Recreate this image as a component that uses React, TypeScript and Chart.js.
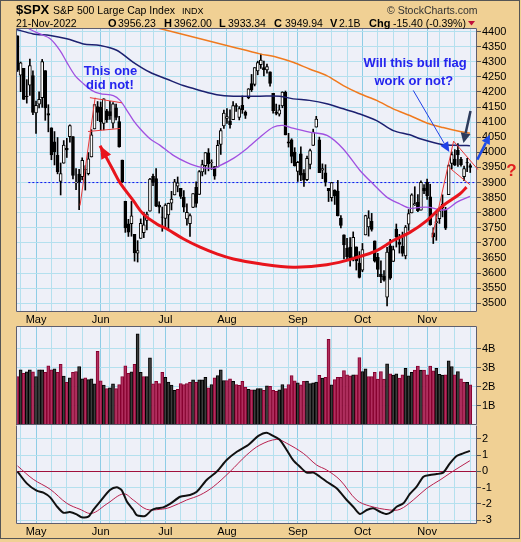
import React, { useEffect, useRef } from 'react';
import { Chart, registerables } from 'chart.js';

Chart.register(...registerables);

const FONT = '"Liberation Sans", Arial, Helvetica, sans-serif';
Chart.defaults.font.family = FONT;

// ---------------- data (one bar per trading day, 22-Apr-2022 .. 21-Nov-2022) ----------------
const opens = [
  4385.8, 4255.3, 4278.1, 4186.5, 4222.6, 4253.8, 4130.6, 4159.8, 4181.2, 4270.4,
  4128.2, 4081.3, 4035.2, 3990.1, 3903.9, 3963.9, 4013.0, 4052.0, 4052.0, 3899.0,
  3927.8, 3919.4, 3942.9, 3929.6, 3984.6, 4077.4, 4151.1, 4149.8, 4095.4, 4137.6,
  4134.7, 4096.5, 4147.1, 4101.7, 3974.4, 3838.2, 3763.5, 3764.1, 3728.2, 3665.9,
  3715.3, 3733.9, 3774.7, 3805.0, 3920.8, 3913.0, 3825.1, 3786.0, 3781.0, 3792.6,
  3832.0, 3858.9, 3888.3, 3880.9, 3852.0, 3779.7, 3764.0, 3818.0, 3883.8, 3860.7,
  3935.3, 3955.5, 3998.4, 3965.7, 3953.2, 3951.4, 4026.1, 4087.3, 4112.4, 4104.2,
  4108.0, 4154.9, 4115.9, 4155.9, 4133.1, 4181.0, 4227.4, 4225.0, 4269.4, 4290.5,
  4280.4, 4273.1, 4266.3, 4195.1, 4133.1, 4126.6, 4153.3, 4198.7, 4034.6, 4041.3,
  4000.7, 3936.7, 3994.7, 3930.9, 3909.4, 3959.9, 4022.9, 4083.7, 4041.3, 3940.7,
  3932.4, 3880.9, 3849.9, 3875.2, 3871.4, 3782.4, 3727.1, 3682.7, 3686.4, 3651.9,
  3687.0, 3633.5, 3609.8, 3726.5, 3753.2, 3772.0, 3706.7, 3652.2, 3595.9, 3590.8,
  3520.4, 3690.4, 3638.7, 3746.3, 3703.1, 3689.1, 3657.1, 3762.0, 3799.4, 3826.0,
  3834.7, 3808.3, 3881.9, 3901.8, 3852.9, 3733.3, 3767.0, 3780.7, 3817.0, 3810.9,
  3859.9, 3963.7, 3978.0, 4006.4, 3976.8, 3919.3, 3966.4, 3956.2,
];
const highs = [
  4385.8, 4299.0, 4278.1, 4240.7, 4308.5, 4269.7, 4169.8, 4200.1, 4307.7, 4270.4,
  4157.7, 4081.3, 4068.8, 4049.1, 3964.8, 4038.9, 4046.5, 4090.7, 4052.0, 3946.0,
  3943.4, 3981.9, 3955.7, 3999.3, 4075.1, 4158.5, 4168.3, 4166.5, 4177.5, 4142.7,
  4168.8, 4164.9, 4160.1, 4119.1, 3974.4, 3838.2, 3778.2, 3837.6, 3728.2, 3707.7,
  3779.7, 3801.8, 3802.6, 3913.7, 3927.7, 3945.9, 3836.5, 3819.0, 3829.8, 3832.2,
  3870.9, 3910.6, 3918.5, 3880.9, 3873.4, 3829.4, 3796.4, 3863.6, 3902.4, 3939.8,
  3974.1, 3999.3, 4012.4, 3975.3, 3953.2, 4039.6, 4078.9, 4140.2, 4145.0, 4140.5,
  4167.7, 4161.3, 4151.6, 4186.6, 4137.3, 4211.0, 4257.9, 4280.5, 4301.8, 4325.3,
  4302.2, 4292.5, 4266.3, 4195.1, 4159.8, 4156.6, 4200.5, 4203.0, 4063.0, 4045.0,
  4015.4, 3970.2, 4018.4, 3942.6, 3987.9, 4010.5, 4076.8, 4119.3, 4050.4, 3961.9,
  3959.1, 3880.9, 3900.5, 3876.0, 3907.1, 3790.4, 3727.1, 3715.7, 3717.5, 3736.7,
  3687.0, 3671.4, 3698.4, 3791.9, 3806.9, 3797.9, 3706.7, 3665.6, 3640.7, 3608.3,
  3685.4, 3712.0, 3689.7, 3762.8, 3728.6, 3736.0, 3757.9, 3810.7, 3862.9, 3886.2,
  3859.9, 3905.4, 3893.7, 3911.8, 3894.4, 3750.6, 3796.3, 3814.0, 3859.4, 3818.2,
  3959.2, 4001.5, 4009.0, 4028.8, 3983.1, 3954.3, 3979.9, 3962.0,
];
const lows = [
  4267.6, 4200.8, 4175.0, 4162.9, 4188.6, 4124.3, 4062.5, 4147.1, 4148.9, 4106.0,
  4067.9, 3975.5, 3958.2, 3928.8, 3858.9, 3963.9, 3983.0, 4033.9, 3911.9, 3876.6,
  3810.3, 3909.0, 3875.1, 3925.0, 3984.6, 4077.4, 4104.9, 4073.9, 4074.4, 4098.7,
  4109.2, 4080.2, 4107.2, 4017.2, 3900.2, 3735.0, 3721.6, 3722.3, 3639.8, 3636.9,
  3715.3, 3717.7, 3743.5, 3805.0, 3889.7, 3820.1, 3799.0, 3738.7, 3752.1, 3742.1,
  3809.4, 3858.9, 3869.3, 3847.2, 3802.4, 3759.1, 3721.6, 3817.2, 3818.6, 3860.7,
  3922.0, 3927.6, 3938.7, 3943.5, 3910.7, 3951.4, 3993.0, 4079.2, 4096.0, 4079.8,
  4108.0, 4135.4, 4107.3, 4129.0, 4112.1, 4177.3, 4201.4, 4219.8, 4256.9, 4277.8,
  4253.1, 4262.0, 4218.7, 4129.9, 4124.0, 4120.0, 4147.6, 4057.7, 4017.4, 3965.2,
  3954.5, 3903.7, 3906.2, 3886.8, 3906.0, 3944.8, 4022.9, 4083.7, 3932.7, 3912.8,
  3888.3, 3837.1, 3838.5, 3827.5, 3789.5, 3749.5, 3647.5, 3644.8, 3623.3, 3640.6,
  3610.4, 3584.1, 3604.9, 3726.5, 3722.7, 3739.2, 3636.7, 3588.1, 3568.4, 3573.9,
  3491.6, 3579.7, 3638.7, 3686.5, 3666.5, 3656.4, 3647.4, 3741.7, 3799.4, 3824.1,
  3803.8, 3808.3, 3863.2, 3843.8, 3758.7, 3698.2, 3708.8, 3764.7, 3786.3, 3744.2,
  3859.9, 3944.8, 3956.4, 3953.2, 3954.3, 3906.5, 3936.0, 3933.3,
];
const closes = [
  4271.8, 4296.1, 4175.2, 4184.0, 4287.5, 4131.9, 4155.4, 4175.5, 4300.2, 4146.9,
  4123.3, 3991.2, 4001.1, 3935.2, 3930.1, 4023.9, 4008.0, 4088.9, 3923.7, 3900.8,
  3901.4, 3973.8, 3941.5, 3978.7, 4057.8, 4158.2, 4132.2, 4101.2, 4176.8, 4108.5,
  4121.4, 4160.7, 4115.8, 4017.8, 3900.9, 3749.6, 3735.5, 3790.0, 3666.8, 3674.8,
  3764.8, 3759.9, 3795.7, 3911.7, 3900.1, 3821.6, 3818.8, 3785.4, 3825.3, 3831.4,
  3845.1, 3902.6, 3899.4, 3854.4, 3818.8, 3801.8, 3790.4, 3863.2, 3830.9, 3936.7,
  3959.9, 3999.0, 3961.6, 3966.8, 3921.1, 4023.6, 4072.4, 4130.3, 4118.6, 4091.2,
  4155.2, 4151.9, 4145.2, 4140.1, 4122.5, 4210.2, 4207.3, 4280.2, 4297.1, 4305.2,
  4274.0, 4283.7, 4228.5, 4138.0, 4128.7, 4140.8, 4199.1, 4057.7, 4030.6, 3986.2,
  3955.0, 3966.9, 3924.3, 3908.2, 3979.9, 4006.2, 4067.4, 4110.4, 3932.7, 3946.0,
  3901.4, 3873.3, 3899.9, 3855.9, 3789.9, 3758.0, 3693.2, 3655.0, 3647.3, 3719.0,
  3640.5, 3585.6, 3678.4, 3790.9, 3783.3, 3744.5, 3639.7, 3612.4, 3588.8, 3577.0,
  3669.9, 3583.1, 3678.0, 3720.0, 3695.2, 3665.8, 3752.8, 3797.3, 3859.1, 3830.6,
  3807.3, 3901.1, 3872.0, 3856.1, 3759.7, 3719.9, 3770.6, 3806.8, 3828.1, 3748.6,
  3956.4, 3992.9, 3957.3, 3991.7, 3958.8, 3946.6, 3965.3, 3949.9,
];
const prevClose = 4393.7; // close of the day before the first bar
// volume in billions
const volumes = [
  2.54, 2.89, 2.70, 2.78, 2.89, 2.78, 2.54, 2.89, 2.89, 2.75,
  3.10, 2.89, 2.94, 2.76, 3.17, 2.56, 2.23, 2.47, 2.75, 2.80,
  3.06, 2.42, 2.47, 2.37, 2.42, 2.16, 3.85, 2.31, 2.09, 1.90,
  1.95, 2.16, 1.90, 2.12, 2.54, 3.10, 2.70, 2.78, 3.17, 4.77,
  2.75, 2.54, 2.54, 3.52, 2.16, 2.28, 2.17, 2.75, 2.50, 2.24,
  2.09, 1.81, 1.87, 2.17, 2.12, 2.17, 2.23, 2.36, 2.23, 2.36,
  2.36, 2.50, 1.95, 2.12, 2.47, 2.59, 2.89, 2.33, 2.33, 2.42,
  2.28, 2.12, 2.07, 2.28, 1.98, 1.87, 1.84, 1.84, 1.90, 1.90,
  1.81, 2.05, 2.02, 1.81, 1.76, 1.84, 2.12, 1.90, 2.12, 2.59,
  2.31, 2.20, 2.10, 2.28, 2.30, 2.17, 2.20, 2.25, 2.60, 2.45,
  2.50, 4.48, 2.10, 2.37, 2.49, 2.49, 2.85, 2.63, 2.57, 2.63,
  2.63, 3.53, 2.80, 2.94, 2.54, 2.54, 2.75, 2.40, 2.80, 2.40,
  3.20, 2.68, 2.61, 2.68, 2.45, 2.63, 2.96, 2.57, 2.75, 2.87,
  3.08, 2.87, 2.87, 2.63, 3.08, 2.83, 2.96, 2.65, 2.61, 2.63,
  3.36, 3.06, 2.63, 2.80, 2.42, 2.23, 2.23, 2.10,
];

// moving averages (bar index, value)
const purpleIdx = [-0.5, 3.7, 7.3, 10.6, 13.8, 16, 18.7, 21.4, 24.1, 26.8, 31.1, 33.3, 35.5, 37.6, 39.8, 43, 46.3, 50.6, 54.9, 59.3, 63.6, 65.7, 70.1, 74.4, 78.7, 83, 86.2, 89.4, 94.8, 100.5, 105.7, 111.2, 115.4, 120, 124.2, 127.4, 130.6, 133.9, 137.2, 139.4, 142.7, 146.9];
const purpleVal = [4440, 4409, 4392, 4376, 4337, 4298, 4254, 4227, 4205, 4194, 4188, 4172, 4139, 4106, 4078, 4045, 4023, 3990, 3967, 3951, 3947, 3956, 3980, 4012, 4050, 4083, 4089, 4080, 4067, 4056, 4012, 3940, 3896, 3851, 3829, 3815, 3818, 3818, 3810, 3811, 3835, 3854];
const navyIdx = [-0.5, 5.1, 10.6, 16, 21.4, 26.8, 32.2, 37.6, 43, 48.4, 53.8, 59.3, 64.7, 70.1, 78.7, 85.2, 89.5, 94.8, 100.4, 105.8, 111.2, 116.6, 122, 127.4, 130.7, 137.9, 143.7, 146.9];
const navyVal = [4407, 4392, 4387, 4376, 4359, 4354, 4338, 4298, 4265, 4243, 4221, 4205, 4191, 4186, 4186, 4186, 4177, 4172, 4161, 4144, 4127, 4105, 4072, 4058, 4045, 4026, 4023, 4022];
const orangeIdx = [40, 48.4, 59.3, 70.1, 78.7, 84.2, 89.5, 94.8, 100.4, 105.8, 111.2, 116.6, 122, 127.4, 132.9, 138.2, 143.7, 146.9];
const orangeVal = [4425, 4404, 4376, 4348, 4326, 4315, 4298, 4276, 4254, 4221, 4194, 4172, 4144, 4122, 4097, 4082, 4069, 4063];

// PPO line and signal (bar index, value)
const ppoIdx = [0, 3, 6.2, 8.4, 10.6, 12.7, 14.9, 17, 19.2, 20.8, 23, 24.6, 26.8, 30, 32.2, 33.8, 35.5, 37.6, 38.7, 41.4, 43.6, 45.2, 47.3, 49.5, 52.8, 56, 58.2, 61.4, 64.7, 67.9, 71.2, 74.9, 78.2, 80.9, 83, 85.2, 87.4, 89.5, 91.7, 93.9, 96.1, 98.2, 100.4, 103.6, 106.9, 109, 111.2, 113.4, 115.5, 117.7, 119.9, 121.5, 123.1, 125.3, 127.4, 129.6, 131.8, 133.9, 136.1, 138.2, 140.4, 142.6, 144.7, 146.9];
const ppoVal = [-0.02, -0.74, -1.19, -1.31, -1.6, -2.13, -2.54, -2.5, -2.64, -2.82, -2.78, -2.37, -1.86, -1.15, -0.98, -1.15, -1.85, -2.37, -2.68, -2.74, -2.37, -2.27, -2.21, -2.0, -1.56, -1.45, -1.25, -0.53, -0.02, 0.69, 1.2, 1.61, 2.17, 2.37, 2.17, 1.92, 1.31, 0.69, 0.28, -0.08, -0.08, -0.33, -0.64, -1.04, -1.76, -2.17, -2.62, -2.37, -2.27, -2.48, -2.62, -2.48, -2.17, -1.96, -1.39, -0.94, -0.33, -0.23, -0.17, -0.08, 0.49, 0.94, 1.1, 1.25];
const sigIdx = [0, 5.1, 10.6, 16, 20.3, 24.1, 29, 34.4, 37.6, 41.9, 46.3, 49.5, 54.9, 59.3, 63.6, 69, 74.4, 78.7, 84.2, 87.4, 92.8, 97.1, 100.4, 104.7, 110.1, 114.4, 120.9, 124.2, 128.5, 132.9, 137.2, 140.4, 143.7, 146.9];
const sigVal = [0.33, -0.49, -1.1, -1.96, -2.33, -2.58, -2.0, -1.38, -1.76, -2.33, -2.33, -2.21, -1.76, -1.45, -0.94, -0.02, 1.0, 1.61, 1.96, 1.72, 1.1, 0.39, 0.08, -0.53, -1.76, -2.13, -2.37, -2.33, -1.76, -1.04, -0.53, -0.12, 0.28, 0.65];

// axes
const monthStarts = [6, 27, 48, 68, 91, 112, 133];
const monthNames = ['May', 'Jun', 'Jul', 'Aug', 'Sep', 'Oct', 'Nov'];
const weekStarts = [1, 6, 11, 16, 21, 26, 30, 35, 40, 44, 49, 53, 58, 63, 68, 73, 78, 83, 88, 93, 97, 102, 107, 112, 117, 122, 127, 132, 137, 142, 147];
const priceTicks = [3500, 3550, 3600, 3650, 3700, 3750, 3800, 3850, 3900, 3950, 4000, 4050, 4100, 4150, 4200, 4250, 4300, 4350, 4400];
const volTicks = [1, 2, 3, 4];
const macdTicks = [-3, -2, -1, 0, 1, 2];
const supportLevel = 3900;
const supportStart = 3.5;

// annotations (bar index, price)
const curveIdx = [26.8, 31.1, 33.3, 37.6, 40.8, 45.2, 48.4, 53.8, 59.3, 64.7, 70.1, 78.7, 89.5, 100.4, 111.2, 116.6, 122, 127.4, 132.9, 138.2, 143.7, 145.8];
const curveVal = [4022, 3940, 3899, 3840, 3796, 3763, 3747, 3714, 3686, 3664, 3647, 3631, 3620, 3628, 3655, 3675, 3708, 3735, 3774, 3824, 3863, 3885];
const juneFlag = [
  [20.3, 3824, 25.2, 4181],
  [23.5, 4181, 33.9, 4164],
  [22.9, 4069, 33.3, 4079],
];
const novFlag = [
  [134.6, 3718, 141.6, 4037],
  [141.6, 4037, 149.5, 3943],
  [140.1, 3950, 146.9, 3893],
];
const noteTexts = ['This one', 'did not!', 'Will this bull flag', 'work or not?'];
const noteIdx = [30.2, 30.0, 129.1, 128.7];
const noteVal = [4255, 4209, 4283, 4224];
const thinArrow = [128.5, 4205, 140.2, 4001];
const navyArrow = [147.1, 4137, 144.8, 4031];
const rightArrow = [149.3, 3976, 153.4, 4058];
const questionAt = [160.4, 3922];

// ---------------- styling ----------------
const TAN = '#F0D094';
const PLOT_BG = '#EEF0F8';
const WEEK_GRID = '#B4E0EE';
const MONTH_GRID = '#8ECDE6';
const FRAME = '#5E5E6E';
const X_MIN = -0.5;
const X_MAX = 149.2;

const gridTicks = Array.from(new Set([
  ...monthStarts,
  ...weekStarts.filter((w) => monthStarts.every((m) => Math.abs(w - m) > 2)),
])).sort((a, b) => a - b);

function noPad(s: any) {
  s.paddingTop = 0;
  s.paddingBottom = 0;
  s.paddingLeft = 0;
  s.paddingRight = 0;
}

function xScale(showLabels: boolean, height: number) {
  return {
    type: 'linear',
    min: X_MIN,
    max: X_MAX,
    offset: false,
    grid: {
      offset: false,
      drawTicks: false,
      color: (c: any) => (monthStarts.includes(c.tick && c.tick.value) ? MONTH_GRID : WEEK_GRID),
    },
    border: { display: false },
    ticks: {
      display: showLabels,
      autoSkip: false,
      maxRotation: 0,
      minRotation: 0,
      padding: 1,
      color: '#000',
      font: { size: 11 },
      callback: (v: any) => {
        const k = monthStarts.indexOf(v);
        return k >= 0 ? monthNames[k] : '';
      },
    },
    afterBuildTicks: (s: any) => {
      s.ticks = gridTicks.map((v) => ({ value: v }));
    },
    afterFit: (s: any) => {
      s.height = height;
      noPad(s);
    },
  };
}

function yScale(min: number, max: number, ticks: number[], fmt: (v: number) => string, zeroColor?: string) {
  return {
    position: 'right',
    min,
    max,
    grid: {
      color: (c: any) => (zeroColor && c.tick && c.tick.value === 0 ? zeroColor : WEEK_GRID),
      tickLength: 4,
      tickColor: '#555',
      drawTicks: true,
    },
    border: { display: false },
    ticks: { autoSkip: false, padding: 1, color: '#000', font: { size: 11 }, callback: (v: any) => fmt(v) },
    afterBuildTicks: (s: any) => {
      s.ticks = ticks.map((v) => ({ value: v }));
    },
    afterFit: (s: any) => {
      s.width = 44;
      noPad(s);
    },
  };
}

function panelPlugin(skipTop: boolean) {
  return {
    id: 'panel',
    beforeDraw(chart: any) {
      const { ctx, chartArea: a, width, height } = chart;
      ctx.save();
      ctx.fillStyle = TAN;
      ctx.fillRect(0, 0, width, height);
      ctx.fillStyle = PLOT_BG;
      ctx.fillRect(a.left, a.top, a.right - a.left, a.bottom - a.top);
      ctx.restore();
    },
    afterDraw(chart: any) {
      const { ctx, chartArea: a } = chart;
      const l = Math.round(a.left) + 0.5;
      const r = Math.round(a.right) - 0.5;
      const t = Math.round(a.top) + 0.5;
      const b = Math.round(a.bottom) - 0.5;
      ctx.save();
      ctx.strokeStyle = FRAME;
      ctx.lineWidth = 1;
      ctx.beginPath();
      if (!skipTop) {
        ctx.moveTo(l, t);
        ctx.lineTo(r, t);
      }
      ctx.moveTo(r, t);
      ctx.lineTo(r, b);
      ctx.lineTo(l, b);
      ctx.lineTo(l, t);
      ctx.stroke();
      ctx.restore();
    },
  };
}

function drawArrow(ctx: any, x1: number, y1: number, x2: number, y2: number, color: string, lw: number, hl: number, hw: number) {
  const ang = Math.atan2(y2 - y1, x2 - x1);
  const bx = x2 - hl * Math.cos(ang);
  const by = y2 - hl * Math.sin(ang);
  ctx.save();
  ctx.strokeStyle = color;
  ctx.fillStyle = color;
  ctx.lineWidth = lw;
  ctx.lineCap = 'butt';
  ctx.beginPath();
  ctx.moveTo(x1, y1);
  ctx.lineTo(bx, by);
  ctx.stroke();
  ctx.beginPath();
  ctx.moveTo(x2, y2);
  ctx.lineTo(bx + (hw / 2) * Math.sin(ang), by - (hw / 2) * Math.cos(ang));
  ctx.lineTo(bx - (hw / 2) * Math.sin(ang), by + (hw / 2) * Math.cos(ang));
  ctx.closePath();
  ctx.fill();
  ctx.restore();
}

const annotationPlugin = {
  id: 'notes',
  afterDraw(chart: any) {
    const { ctx } = chart;
    const X = (v: number) => chart.scales.x.getPixelForValue(v);
    const Y = (v: number) => chart.scales.y.getPixelForValue(v);
    ctx.save();
    ctx.strokeStyle = '#E83838';
    ctx.lineWidth = 1;
    [...juneFlag, ...novFlag].forEach((s) => {
      ctx.beginPath();
      ctx.moveTo(X(s[0]), Y(s[1]));
      ctx.lineTo(X(s[2]), Y(s[3]));
      ctx.stroke();
    });
    {
      const x2 = X(curveIdx[0]);
      const y2 = Y(curveVal[0]);
      const x1 = X(curveIdx[1]);
      const y1 = Y(curveVal[1]);
      const ang = Math.atan2(y2 - y1, x2 - x1);
      const hl = 13;
      const hw = 11;
      const bx = x2 - hl * Math.cos(ang);
      const by = y2 - hl * Math.sin(ang);
      ctx.fillStyle = '#E8141C';
      ctx.beginPath();
      ctx.moveTo(x2, y2);
      ctx.lineTo(bx + (hw / 2) * Math.sin(ang), by - (hw / 2) * Math.cos(ang));
      ctx.lineTo(bx - (hw / 2) * Math.sin(ang), by + (hw / 2) * Math.cos(ang));
      ctx.closePath();
      ctx.fill();
    }
    drawArrow(ctx, X(thinArrow[0]), Y(thinArrow[1]), X(thinArrow[2]), Y(thinArrow[3]), '#2040E6', 1, 10, 9);
    drawArrow(ctx, X(navyArrow[0]), Y(navyArrow[1]), X(navyArrow[2]), Y(navyArrow[3]), '#2E3B5C', 2.5, 10, 10);
    drawArrow(ctx, X(rightArrow[0]), Y(rightArrow[1]), X(rightArrow[2]), Y(rightArrow[3]), '#1E4BE6', 2.5, 9, 9);
    ctx.fillStyle = '#2424EE';
    ctx.font = `bold 13px ${FONT}`;
    ctx.textAlign = 'center';
    ctx.textBaseline = 'alphabetic';
    noteTexts.forEach((t, k) => ctx.fillText(t, X(noteIdx[k]), Y(noteVal[k])));
    ctx.fillStyle = '#E02020';
    ctx.font = `bold 17px ${FONT}`;
    ctx.fillText('?', X(questionAt[0]), Y(questionAt[1]));
    ctx.restore();
  },
};

const headerPlugin = {
  id: 'header',
  afterDraw(chart: any) {
    const { ctx } = chart;
    ctx.save();
    ctx.textAlign = 'left';
    ctx.textBaseline = 'alphabetic';
    ctx.fillStyle = '#000';
    ctx.font = `bold 13px ${FONT}`;
    ctx.fillText('$SPX', 16, 14);
    ctx.font = `10.5px ${FONT}`;
    ctx.fillText('S&P 500 Large Cap Index', 53, 14);
    ctx.font = `9px ${FONT}`;
    ctx.fillText('INDX', 182, 14);
    ctx.fillStyle = '#333';
    ctx.font = `10.5px ${FONT}`;
    ctx.fillText('\u00A9 StockCharts.com', 387, 14);
    ctx.fillStyle = '#000';
    const line2: [string, number, boolean][] = [
      ['21-Nov-2022', 16, false], ['O', 108, true], ['3956.23', 118, false],
      ['H', 164, true], ['3962.00', 174, false], ['L', 219, true], ['3933.34', 228, false],
      ['C', 274, true], ['3949.94', 285, false], ['V', 330, true], ['2.1B', 339, false],
      ['Chg', 369, true], ['-15.40 (-0.39%)', 393, false],
    ];
    line2.forEach(([t, x, b]) => {
      ctx.font = b ? `bold 11px ${FONT}` : `10.5px ${FONT}`;
      ctx.fillText(t, x, 26.5);
    });
    ctx.fillStyle = '#C0103A';
    ctx.beginPath();
    ctx.moveTo(468, 21);
    ctx.lineTo(475, 21);
    ctx.lineTo(471.5, 25.5);
    ctx.closePath();
    ctx.fill();
    ctx.restore();
  },
};

const idx = closes.map((_, i) => i);

export default function App() {
  const priceRef = useRef<HTMLCanvasElement>(null);
  const volRef = useRef<HTMLCanvasElement>(null);
  const macdRef = useRef<HTMLCanvasElement>(null);

  useEffect(() => {
    document.body.style.margin = '0';
    const common: any = {
      responsive: false,
      maintainAspectRatio: false,
      animation: false,
      devicePixelRatio: 1,
      events: [],
      plugins: { legend: { display: false }, tooltip: { enabled: false } },
    };

    const price = new Chart(priceRef.current as HTMLCanvasElement, {
      type: 'bar',
      data: {
        datasets: [
          {
            type: 'line',
            data: curveIdx.map((x, k) => ({ x, y: curveVal[k] })),
            borderColor: '#E8141C',
            borderWidth: 3,
            pointRadius: 0,
            tension: 0.4,
            order: 0,
          },
          {
            type: 'line',
            data: purpleIdx.map((x, k) => ({ x, y: purpleVal[k] })),
            borderColor: '#A050E0',
            borderWidth: 1.3,
            pointRadius: 0,
            tension: 0.3,
            order: 1,
          },
          {
            type: 'line',
            data: navyIdx.map((x, k) => ({ x, y: navyVal[k] })),
            borderColor: '#1C2070',
            borderWidth: 1.5,
            pointRadius: 0,
            tension: 0.3,
            order: 1,
          },
          {
            type: 'line',
            data: orangeIdx.map((x, k) => ({ x, y: orangeVal[k] })),
            borderColor: '#F07A1E',
            borderWidth: 1.5,
            pointRadius: 0,
            tension: 0.3,
            order: 1,
          },
          {
            type: 'bar',
            data: idx.map((i) => ({ x: i, y: [opens[i], closes[i]] })),
            backgroundColor: idx.map((i) => (closes[i] > opens[i] ? '#FFFFFF' : '#000000')),
            borderColor: '#000',
            borderWidth: 1,
            borderSkipped: false,
            barThickness: 3,
            grouped: false,
            order: 2,
          },
          {
            type: 'bar',
            data: idx.map((i) => ({ x: i, y: [lows[i], highs[i]] })),
            backgroundColor: '#000',
            barThickness: 1,
            grouped: false,
            order: 3,
          },
          {
            type: 'line',
            data: [
              { x: supportStart, y: supportLevel },
              { x: X_MAX, y: supportLevel },
            ],
            borderColor: '#1010F0',
            borderWidth: 1,
            borderDash: [2, 2],
            pointRadius: 0,
            order: 4,
          },
        ],
      },
      options: {
        ...common,
        layout: { padding: { left: 16, top: 28, right: 0, bottom: 0 }, autoPadding: false },
        scales: {
          x: xScale(true, 14),
          y: yScale(3471.5, 4411.6, priceTicks, (v) => String(v)),
        },
      },
      plugins: [panelPlugin(false), annotationPlugin, headerPlugin],
    } as any);

    const vol = new Chart(volRef.current as HTMLCanvasElement, {
      type: 'bar',
      data: {
        datasets: [
          {
            data: idx.map((i) => ({ x: i, y: volumes[i] })),
            backgroundColor: idx.map((i) => ((i === 0 ? prevClose : closes[i - 1]) > closes[i] ? '#B02E5E' : '#3C3C3C')),
            borderColor: idx.map((i) => ((i === 0 ? prevClose : closes[i - 1]) > closes[i] ? '#86002E' : '#000000')),
            borderWidth: 1,
            borderSkipped: false,
            barPercentage: 1,
            categoryPercentage: 1,
            grouped: false,
          },
        ],
      },
      options: {
        ...common,
        layout: { padding: { left: 16, top: 0, right: 0, bottom: 0 }, autoPadding: false },
        scales: {
          x: xScale(false, 0),
          y: yScale(0, 5.18, volTicks, (v) => `${v}B`),
        },
      },
      plugins: [panelPlugin(false)],
    } as any);

    const macd = new Chart(macdRef.current as HTMLCanvasElement, {
      type: 'line',
      data: {
        datasets: [
          {
            data: ppoIdx.map((x, k) => ({ x, y: ppoVal[k] })),
            borderColor: '#111',
            borderWidth: 2,
            pointRadius: 0,
            tension: 0.25,
          },
          {
            data: sigIdx.map((x, k) => ({ x, y: sigVal[k] })),
            borderColor: '#B8204E',
            borderWidth: 1,
            pointRadius: 0,
            tension: 0.35,
          },
        ],
      },
      options: {
        ...common,
        layout: { padding: { left: 16, top: 0, right: 0, bottom: 0 }, autoPadding: false },
        scales: {
          x: xScale(true, 18),
          y: yScale(-3.23, 2.84, macdTicks, (v) => String(v), '#A0103C'),
        },
      },
      plugins: [panelPlugin(true)],
    } as any);

    return () => {
      price.destroy();
      vol.destroy();
      macd.destroy();
    };
  }, []);

  return (
    <div style={{ position: 'relative', width: 521, height: 542, background: TAN, overflow: 'hidden' }}>
      <canvas ref={priceRef} width={521} height={326} style={{ position: 'absolute', left: 0, top: 0 }} />
      <canvas ref={volRef} width={521} height={99} style={{ position: 'absolute', left: 0, top: 326 }} />
      <canvas ref={macdRef} width={521} height={117} style={{ position: 'absolute', left: 0, top: 425 }} />
      <div
        style={{
          position: 'absolute',
          left: 0,
          top: 0,
          width: 520,
          height: 539,
          border: '1px solid #555',
          boxSizing: 'border-box',
          pointerEvents: 'none',
        }}
      />
    </div>
  );
}
